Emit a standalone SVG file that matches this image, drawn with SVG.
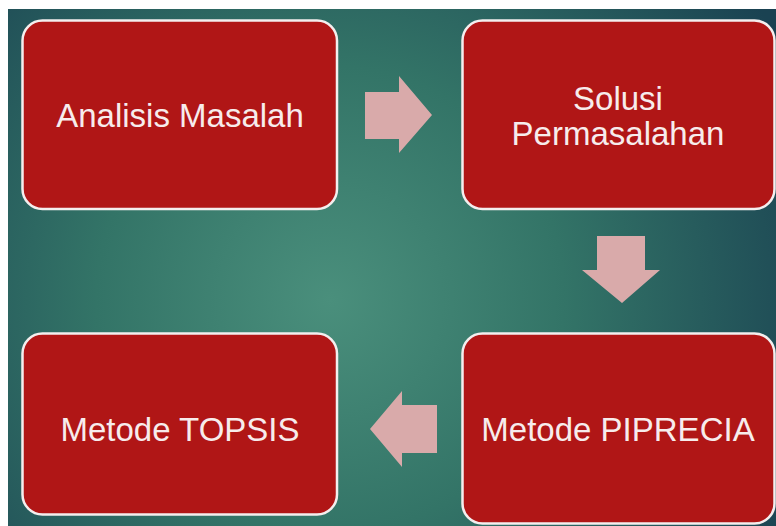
<svg xmlns="http://www.w3.org/2000/svg" width="776" height="526" viewBox="0 0 776 526">
<defs>
<radialGradient id="bg" cx="330" cy="300" r="520" gradientUnits="userSpaceOnUse">
<stop offset="0" stop-color="#4A8F7C"/>
<stop offset="0.45" stop-color="#337467"/>
<stop offset="1" stop-color="#1A4252"/>
</radialGradient>
<style>
.box{fill:#B01616;stroke:#F4EEEE;stroke-width:2.5}
.arr{fill:#D9AAAA}
.t{font-family:"Liberation Sans",Arial,sans-serif;font-size:33px;fill:#F7ECEC;text-anchor:middle}
</style>
</defs>
<rect x="0" y="0" width="776" height="526" fill="#FFFFFF"/>
<rect x="8" y="9" width="768" height="517" fill="url(#bg)"/>
<g id="connectors">
<polygon class="arr" points="365,92 399,92 399,76 432,115 399,153 399,139 365,139"/>
<polygon class="arr" points="597,236 645,236 645,270 660,270 622,303 582,270 597,270"/>
<polygon class="arr" points="437,405 402,405 402,391 370,429 402,467 402,453 437,453"/>
</g>
<g id="n1">
<rect class="box" x="22.5" y="20.5" width="314.5" height="188.5" rx="20"/>
<text class="t" x="180" y="127">Analisis Masalah</text>
</g>
<g id="n2">
<rect class="box" x="462.5" y="20.5" width="312" height="188.5" rx="20"/>
<text class="t" x="618" y="110">Solusi</text>
<text class="t" x="618" y="145">Permasalahan</text>
</g>
<g id="n3">
<rect class="box" x="462.5" y="333.5" width="312" height="190" rx="20"/>
<text class="t" x="618" y="441">Metode PIPRECIA</text>
</g>
<g id="n4">
<rect class="box" x="22.5" y="333.5" width="314.5" height="181" rx="20"/>
<text class="t" x="180" y="441">Metode TOPSIS</text>
</g>
</svg>
